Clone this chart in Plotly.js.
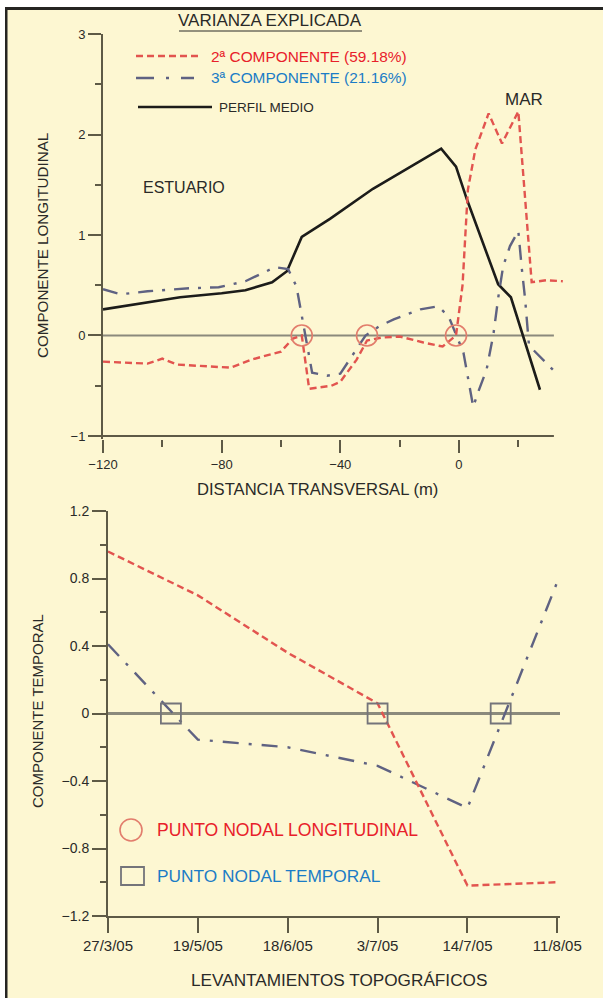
<!DOCTYPE html>
<html>
<head>
<meta charset="utf-8">
<script src="https://cdn.plot.ly/plotly-3.0.1.min.js"></script>
<style>
  html, body { margin: 0; padding: 0; background: #ffffff; }
  #chart { width: 603px; height: 998px; }
</style>
</head>
<body>
<div id="chart"></div>
<script>
// ---------- DATA: top panel (componente longitudinal) ----------
const perfilX = [-120, -94, -80, -72, -63, -58, -53, -43.5, -29, -6, -1, 2.6, 13.2, 17.5, 27.3];
const perfilY = [0.26, 0.38, 0.42, 0.45, 0.53, 0.64, 0.98, 1.16, 1.46, 1.86, 1.68, 1.36, 0.51, 0.38, -0.54];

const comp2X = [-120, -105, -100, -95, -77, -70, -60, -56, -53, -50.5, -43, -40, -34.5, -31, -26, -20, -12, -5.5, -1, 1.2, 3, 5.5, 10, 14.5, 20, 24.5, 29.5, 35];
const comp2Y = [-0.26, -0.28, -0.23, -0.29, -0.32, -0.24, -0.16, -0.03, 0, -0.53, -0.50, -0.46, -0.24, -0.05, -0.02, -0.01, -0.07, -0.11, 0, 0.5, 1.45, 1.85, 2.21, 1.91, 2.23, 0.53, 0.55, 0.54];

const comp3X = [-120, -114, -105, -91, -81, -72, -62, -57.6, -54.8, -49.5, -44.5, -40, -35.3, -31.5, -27, -22, -13, -7, -3.5, 1.5, 4.8, 6.5, 9.3, 11.6, 13.3, 14.9, 17.2, 20, 21.1, 22.3, 23.6, 32.3];
const comp3Y = [0.46, 0.41, 0.44, 0.47, 0.48, 0.54, 0.68, 0.66, 0.49, -0.37, -0.40, -0.38, -0.17, 0.0, 0.09, 0.16, 0.26, 0.29, 0.19, -0.17, -0.71, -0.56, -0.34, 0.01, 0.39, 0.69, 0.89, 1.04, 0.69, 0.36, -0.10, -0.36];

const nodalLongX = [-53, -31, -1];
const nodalLongY = [0, 0, 0];

const topXTicks = [-120, -80, -40, 0];
const topYTicks = [-1, 0, 1, 2, 3];

// ---------- DATA: bottom panel (componente temporal) ----------
const fechas = ['27/3/05', '19/5/05', '18/6/05', '3/7/05', '14/7/05', '11/8/05'];
const fechaIdx = [0, 1, 2, 3, 4, 5];
const temp2 = [0.96, 0.70, 0.36, 0.06, -1.02, -1.00];
const temp3 = [0.41, -0.155, -0.20, -0.31, -0.56, 0.78];
const nodalTempX = [0.7, 3.0, 4.37];
const nodalTempY = [0, 0, 0];
const botYTicks = [-1.2, -0.8, -0.4, 0, 0.4, 0.8, 1.2];
const botYTickText = ['−1.2', '−0.8', '−0.4', '0', '0.4', '0.8', '1.2'];

// ---------- TEXTS ----------
const txtVarianza = 'VARIANZA EXPLICADA';
const txtComp2 = '2ª COMPONENTE (59.18%)';
const txtComp3 = '3ª COMPONENTE (21.16%)';
const txtPerfil = 'PERFIL MEDIO';

// ---------- STYLE ----------
const W = 603, H = 998;
const FONT = '"Liberation Sans", Arial, sans-serif';
const TICKFONT = '"Liberation Sans", Arial, sans-serif';
const BG = '#fdf7d2';
const RED_LINE = '#e2544f';
const BLUE_LINE = '#5f6282';
const BLACK_LINE = '#1c1c1a';
const RED_TXT = '#e8202a';
const BLUE_TXT = '#1b7cc6';
const AX = '#5e5a46';
const ZERO = '#8b8a7c';
const RED_DASH = '7px,4px';
const BLUE_DASH = '15px,9px,3px,9px';

const fx = px => px / W;
const fy = py => 1 - py / H;

const traces = [
  { x: perfilX, y: perfilY, xaxis: 'x', yaxis: 'y', mode: 'lines', name: txtPerfil,
    line: { color: BLACK_LINE, width: 2.6 } },
  { x: comp3X, y: comp3Y, xaxis: 'x', yaxis: 'y', mode: 'lines', name: txtComp3,
    line: { color: BLUE_LINE, width: 2.4, dash: BLUE_DASH } },
  { x: comp2X, y: comp2Y, xaxis: 'x', yaxis: 'y', mode: 'lines', name: txtComp2,
    line: { color: RED_LINE, width: 2.4, dash: RED_DASH } },
  { x: nodalLongX, y: nodalLongY, xaxis: 'x', yaxis: 'y', mode: 'markers', name: 'PUNTO NODAL LONGITUDINAL',
    marker: { symbol: 'circle-open', size: 21, color: '#e27d6c', line: { width: 1.6, color: '#e27d6c' } }, cliponaxis: false },

  { x: fechaIdx, y: temp3, xaxis: 'x2', yaxis: 'y2', mode: 'lines', name: txtComp3,
    line: { color: BLUE_LINE, width: 2.4, dash: '16px,10px,3px,10px' } },
  { x: fechaIdx, y: temp2, xaxis: 'x2', yaxis: 'y2', mode: 'lines', name: txtComp2,
    line: { color: RED_LINE, width: 2.4, dash: RED_DASH } },
  { x: nodalTempX, y: nodalTempY, xaxis: 'x2', yaxis: 'y2', mode: 'markers', name: 'PUNTO NODAL TEMPORAL',
    marker: { symbol: 'square-open', size: 20, color: '#74747a', line: { width: 1.8, color: '#74747a' } }, cliponaxis: false }
];

const axisCommon = {
  showgrid: false, zeroline: false, linecolor: AX, linewidth: 2,
  ticks: 'outside', tickcolor: AX, tickwidth: 2, fixedrange: true,
  tickfont: { family: TICKFONT, size: 13, color: '#2a2a28' }
};

const layout = {
  width: W, height: H,
  margin: { l: 0, r: 0, t: 0, b: 0 },
  paper_bgcolor: BG, plot_bgcolor: BG,
  showlegend: false,
  xaxis: Object.assign({}, axisCommon, {
    domain: [fx(103), fx(563.4)], range: [-120, 35.2], anchor: 'y',
    showline: false, tickmode: 'array', tickvals: topXTicks, ticklen: 13,
    minor: { tickmode: 'array', tickvals: [-100, -60, -20, 20], ticklen: 7, tickcolor: AX, tickwidth: 2, ticks: 'outside' }
  }),
  yaxis: Object.assign({}, axisCommon, {
    domain: [fy(439), fy(34)], range: [-1.03, 3], anchor: 'x',
    showline: true, tickmode: 'array', tickvals: topYTicks, ticklen: 13,
    minor: { tickmode: 'array', tickvals: [-0.5, 0.5, 1.5, 2.5], ticklen: 6, tickcolor: AX, tickwidth: 2, ticks: 'outside' }
  }),
  xaxis2: Object.assign({}, axisCommon, {
    domain: [fx(108), fx(560)], range: [0, 5.03], anchor: 'y2',
    showline: true, tickmode: 'array', tickvals: fechaIdx, ticktext: fechas, ticklen: 15,
    tickfont: { family: TICKFONT, size: 15, color: '#2a2a28' }
  }),
  yaxis2: Object.assign({}, axisCommon, {
    domain: [fy(916), fy(511)], range: [-1.2, 1.2], anchor: 'x2',
    showline: true, tickmode: 'array', tickvals: botYTicks, ticktext: botYTickText, ticklen: 14,
    tickfont: { family: TICKFONT, size: 14, color: '#2a2a28' },
    minor: { tickmode: 'array', tickvals: [-1.0, -0.6, -0.2, 0.2, 0.6, 1.0], ticklen: 6, tickcolor: AX, tickwidth: 2, ticks: 'outside' }
  }),
  shapes: [
    // frame
    { type: 'rect', xref: 'paper', yref: 'paper', x0: 0, x1: 1, y0: fy(7), y1: 1, fillcolor: '#ffffff', line: { width: 0 } },
    { type: 'rect', xref: 'paper', yref: 'paper', x0: 0, x1: fx(5), y0: 0, y1: 1, fillcolor: '#ffffff', line: { width: 0 } },
    { type: 'rect', xref: 'paper', yref: 'paper', x0: fx(5), x1: 1, y0: fy(10), y1: fy(7), fillcolor: '#262522', line: { width: 0 } },
    { type: 'rect', xref: 'paper', yref: 'paper', x0: fx(5), x1: fx(7.5), y0: 0, y1: fy(7), fillcolor: '#262522', line: { width: 0 } },
    // top panel reference lines (y = 0 and x axis at y = -1)
    { type: 'line', xref: 'x', yref: 'y', x0: -120, x1: 32, y0: 0, y1: 0, layer: 'below', line: { color: ZERO, width: 2 } },
    { type: 'line', xref: 'x', yref: 'y', x0: -120, x1: 32, y0: -1, y1: -1, layer: 'below', line: { color: AX, width: 2 } },
    // bottom panel zero line
    { type: 'line', xref: 'x2', yref: 'y2', x0: 0, x1: 5.03, y0: 0, y1: 0, layer: 'below', line: { color: ZERO, width: 3 } },
    // title underline
    { type: 'line', xref: 'paper', yref: 'paper', x0: fx(179), x1: fx(362), y0: fy(31), y1: fy(31), line: { color: '#2a2a28', width: 1 } },
    // legend samples (top)
    { type: 'line', xref: 'paper', yref: 'paper', x0: fx(136), x1: fx(200), y0: fy(56), y1: fy(56), line: { color: RED_LINE, width: 2.4, dash: RED_DASH } },
    { type: 'line', xref: 'paper', yref: 'paper', x0: fx(136), x1: fx(194), y0: fy(78), y1: fy(78), line: { color: BLUE_LINE, width: 2.4, dash: '18px,12px,3px,12px' } },
    { type: 'line', xref: 'paper', yref: 'paper', x0: fx(138), x1: fx(212), y0: fy(107), y1: fy(107), line: { color: BLACK_LINE, width: 2.6 } },
    // legend symbols (bottom)
    { type: 'circle', xref: 'paper', yref: 'paper', x0: fx(120), x1: fx(142), y0: fy(841), y1: fy(819), line: { color: '#e27d6c', width: 1.6 } },
    { type: 'rect', xref: 'paper', yref: 'paper', x0: fx(121), x1: fx(144), y0: fy(885), y1: fy(867), line: { color: '#74747a', width: 1.8 } }
  ],
  annotations: [
    { xref: 'paper', yref: 'paper', x: fx(270), y: fy(21), text: txtVarianza, showarrow: false, xanchor: 'center', yanchor: 'middle',
      font: { family: FONT, size: 17, color: '#2a2a28' } },
    { xref: 'paper', yref: 'paper', x: fx(209), y: fy(56), text: txtComp2, showarrow: false, xanchor: 'left', yanchor: 'middle',
      font: { family: FONT, size: 15.4, color: RED_TXT } },
    { xref: 'paper', yref: 'paper', x: fx(209), y: fy(78), text: txtComp3, showarrow: false, xanchor: 'left', yanchor: 'middle',
      font: { family: FONT, size: 15.4, color: BLUE_TXT } },
    { xref: 'paper', yref: 'paper', x: fx(217), y: fy(107), text: txtPerfil, showarrow: false, xanchor: 'left', yanchor: 'middle',
      font: { family: FONT, size: 13.5, color: '#2a2a28' } },
    { xref: 'paper', yref: 'paper', x: fx(184), y: fy(188), text: 'ESTUARIO', showarrow: false, xanchor: 'center', yanchor: 'middle',
      font: { family: FONT, size: 16, color: '#2a2a28' } },
    { xref: 'paper', yref: 'paper', x: fx(524), y: fy(99), text: 'MAR', showarrow: false, xanchor: 'center', yanchor: 'middle',
      font: { family: FONT, size: 17, color: '#2a2a28' } },
    { xref: 'paper', yref: 'paper', x: fx(317), y: fy(489), text: 'DISTANCIA TRANSVERSAL (m)', showarrow: false, xanchor: 'center', yanchor: 'middle',
      font: { family: FONT, size: 16.6, color: '#2a2a28' } },
    { xref: 'paper', yref: 'paper', x: fx(42), y: fy(246), text: 'COMPONENTE LONGITUDINAL', showarrow: false, textangle: -90, xanchor: 'center', yanchor: 'middle',
      font: { family: FONT, size: 15.2, color: '#2a2a28' } },
    { xref: 'paper', yref: 'paper', x: fx(37), y: fy(711), text: 'COMPONENTE TEMPORAL', showarrow: false, textangle: -90, xanchor: 'center', yanchor: 'middle',
      font: { family: FONT, size: 15, color: '#2a2a28' } },
    { xref: 'paper', yref: 'paper', x: fx(155), y: fy(830), text: 'PUNTO NODAL LONGITUDINAL', showarrow: false, xanchor: 'left', yanchor: 'middle',
      font: { family: FONT, size: 17.6, color: RED_TXT } },
    { xref: 'paper', yref: 'paper', x: fx(155), y: fy(876), text: 'PUNTO NODAL TEMPORAL', showarrow: false, xanchor: 'left', yanchor: 'middle',
      font: { family: FONT, size: 17.3, color: BLUE_TXT } },
    { xref: 'paper', yref: 'paper', x: fx(339), y: fy(980), text: 'LEVANTAMIENTOS TOPOGRÁFICOS', showarrow: false, xanchor: 'center', yanchor: 'middle',
      font: { family: FONT, size: 17.2, color: '#2a2a28' } }
  ]
};

Plotly.newPlot('chart', traces, layout, { displayModeBar: false, staticPlot: true });
</script>
</body>
</html>
